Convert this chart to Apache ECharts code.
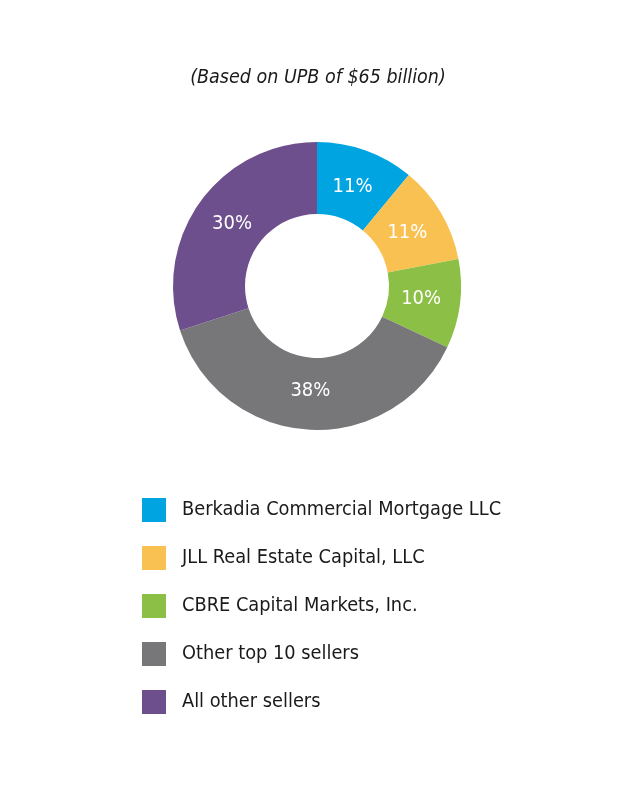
<!DOCTYPE html>
<html><head><meta charset="utf-8">
<script src="https://cdn.jsdelivr.net/npm/echarts@6/dist/echarts.min.js"></script>
<style>html,body{margin:0;padding:0;background:#fff}#c{width:636px;height:800px}</style>
</head><body><div id="c"></div>
<script>
const categories = ["Berkadia Commercial Mortgage LLC","JLL Real Estate Capital, LLC","CBRE Capital Markets, Inc.","Other top 10 sellers","All other sellers"];
const values = [11, 11, 10, 38, 30];
const colors = ["#00a4e0","#f9c152","#8bbf45","#77777a","#6e4f8d"];
const titleText = "(Based on UPB of $65 billion)";
const FONT = "'Liberation Sans Narrow','DejaVu Sans Condensed','Roboto Condensed',sans-serif";
const chart = echarts.init(document.getElementById('c'), null, {renderer:'canvas'});
const pieData = categories.map((n,i)=>({name:n,value:values[i]}));
chart.setOption({
  animation:false,
  color: colors,
  title:{text:titleText,left:'center',top:63,textStyle:{fontFamily:FONT,fontStyle:'italic',fontWeight:'normal',fontSize:19.5,color:'#1a1a1a'}},
  legend:{orient:'vertical',left:142,top:498,padding:0,itemWidth:24,itemHeight:24,itemGap:24,icon:'rect',
    textStyle:{fontFamily:FONT,fontSize:19.8,color:'#1a1a1a',padding:[0,0,0,11]},data:categories},
  series:[
    {type:'pie',center:[317,286],radius:[72,144],startAngle:90,clockwise:true,
     label:{show:false},labelLine:{show:false},itemStyle:{borderWidth:0},emphasis:{disabled:true},
     data:pieData},
    {type:'pie',center:[317,286],radius:[60,144],startAngle:90,clockwise:true,silent:true,
     label:{show:true,position:'inside',formatter:'{c}%',fontFamily:FONT,fontSize:20,color:'#fff'},
     labelLine:{show:false},itemStyle:{color:'rgba(0,0,0,0)',borderWidth:0},emphasis:{disabled:true},
     data:pieData}
  ]
});
</script></body></html>
